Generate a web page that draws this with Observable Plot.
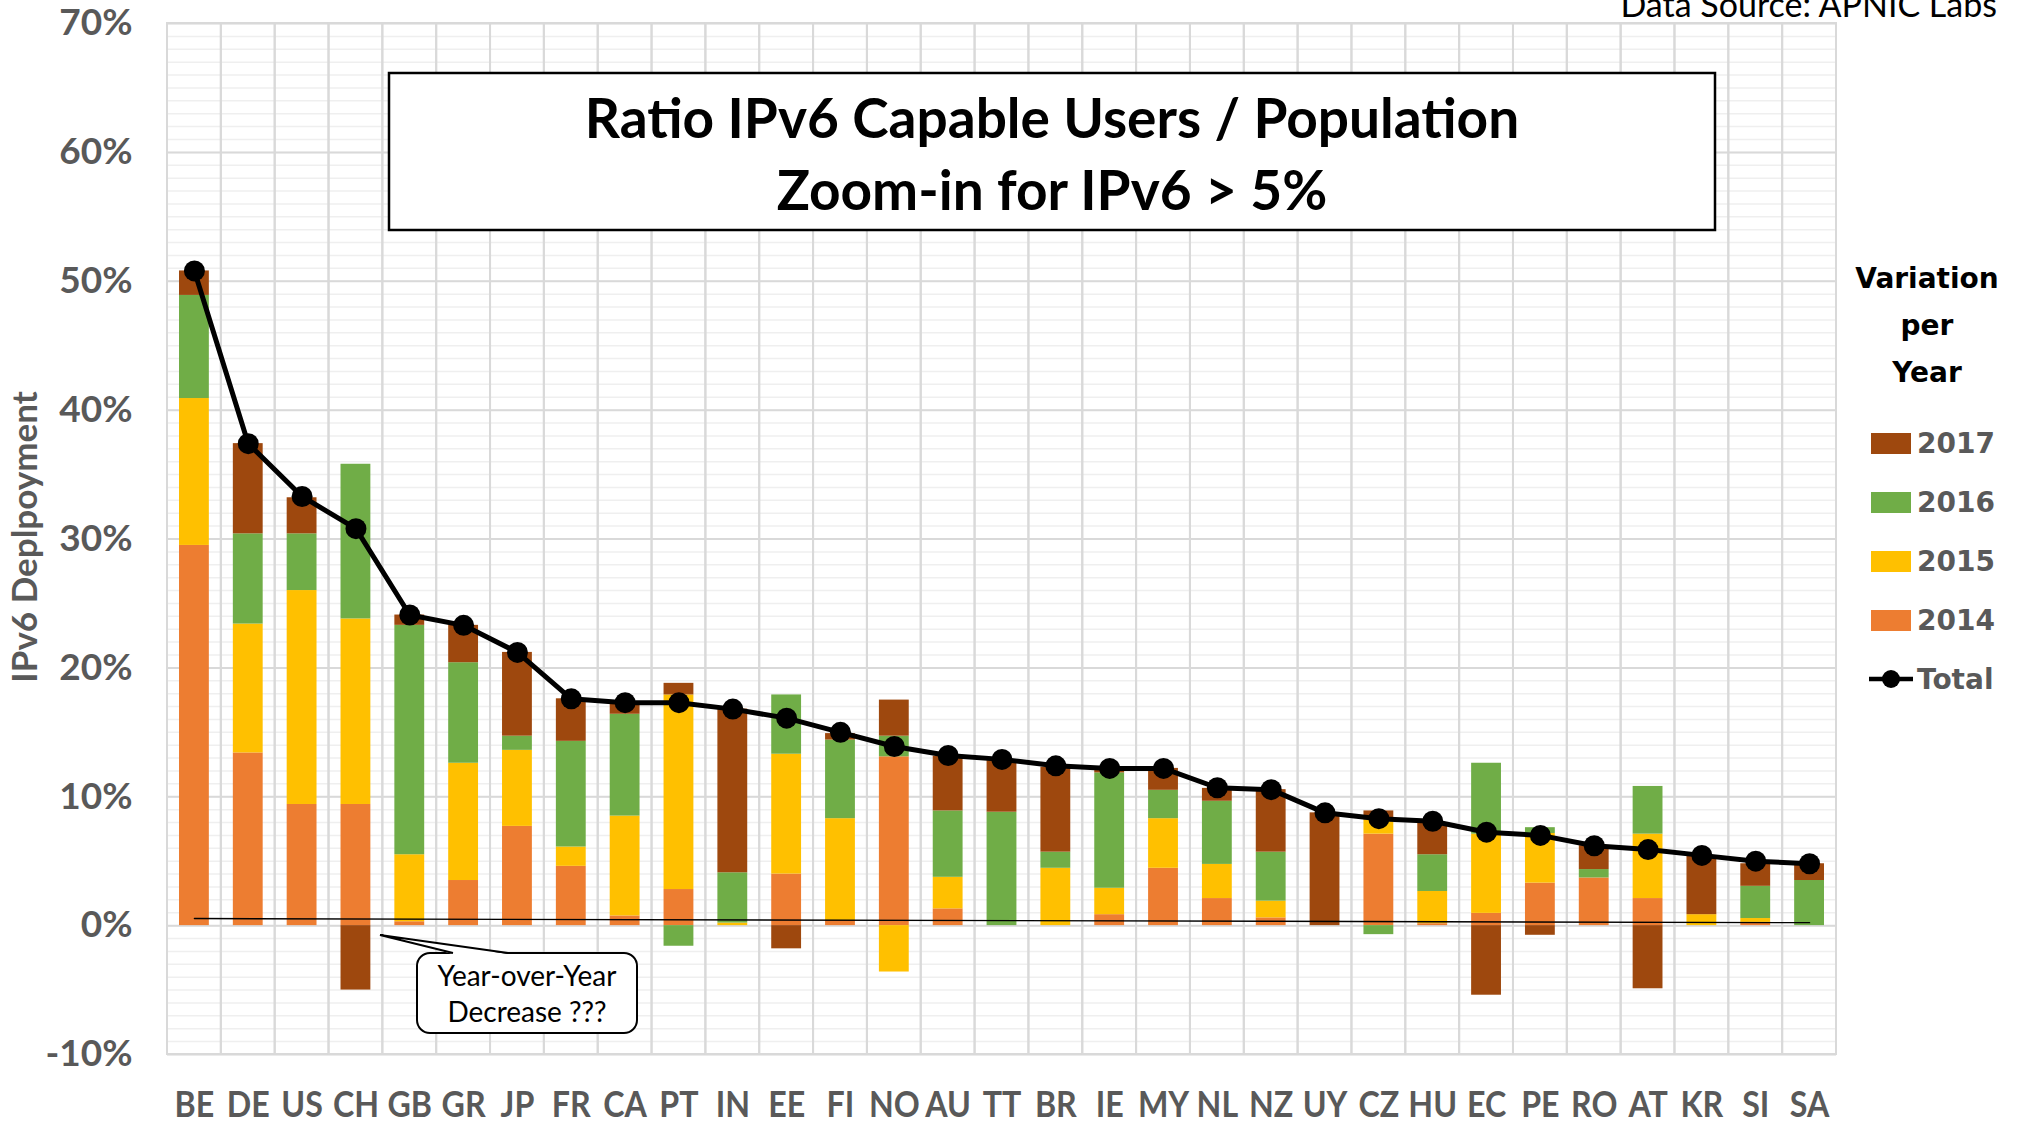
<!DOCTYPE html>
<html>
<head>
<meta charset="utf-8">
<script src="https://cdn.jsdelivr.net/npm/d3@7"></script>
<script src="https://cdn.jsdelivr.net/npm/@observablehq/plot@0.6"></script>
<style>
  body { margin: 0; background: #fff; }
  #chart svg { display: block; }
</style>
</head>
<body>
<div id="chart"></div>
<script>
// ---- Data (percent of population) ----
const countries = ["BE","DE","US","CH","GB","GR","JP","FR","CA","PT","IN","EE","FI","NO","AU","TT","BR","IE","MY","NL","NZ","UY","CZ","HU","EC","PE","RO","AT","KR","SI","SA"];
const v2014 = [29.5, 13.4, 9.4, 9.4, 0.3, 3.5, 7.7, 4.6, 0.75, 2.8, 0, 4.0, 0.4, 13.1, 1.3, 0, 0, 0.85, 4.45, 2.1, 0.6, 0, 7.1, 0.15, 0.95, 3.3, 3.7, 2.1, 0, 0.25, 0];
const v2015 = [11.4, 10.0, 16.6, 14.4, 5.2, 9.1, 5.9, 1.5, 7.75, 15.1, 0.2, 9.3, 7.9, -3.6, 2.45, 0, 4.45, 2.05, 3.85, 2.65, 1.3, 0, 1.1, 2.5, 6.15, 3.85, 0, 5.0, 0.85, 0.3, 0];
const v2016 = [8.0, 7.0, 4.4, 12.0, 17.8, 7.8, 1.1, 8.2, 7.9, -1.6, 3.9, 4.6, 6.1, 1.6, 5.15, 8.8, 1.25, 8.95, 2.2, 4.9, 3.8, 0, -0.7, 2.85, 5.5, 0.45, 0.65, 3.7, 0, 2.5, 3.5];
const v2017 = [1.9, 7.0, 2.8, -5.0, 0.8, 2.9, 6.5, 3.3, 0.9, 0.9, 12.7, -1.8, 0.5, 2.8, 4.25, 4.0, 6.6, 0.2, 1.7, 1.0, 4.85, 8.75, 0.7, 2.5, -5.4, -0.75, 1.85, -4.9, 4.55, 1.75, 1.3];
const totals = [50.8, 37.4, 33.3, 30.8, 24.1, 23.3, 21.2, 17.6, 17.3, 17.3, 16.8, 16.1, 15.0, 13.9, 13.2, 12.9, 12.4, 12.2, 12.2, 10.7, 10.55, 8.75, 8.3, 8.1, 7.25, 7.0, 6.2, 5.9, 5.45, 5.0, 4.8];
const years = ["2014", "2015", "2016", "2017"];
const yearColors = ["#ED7D31", "#FFC000", "#70AD47", "#9E480E"];
const yTicks = [-10, 0, 10, 20, 30, 40, 50, 60, 70];
const minorTicks = d3.range(-10, 71, 1);
// hand-drawn reference line near zero in the original
const refCountries = ["BE", "SA"];
const refValues = [0.55, 0.23];

// ---- Build tables ----
const series = {"2014": v2014, "2015": v2015, "2016": v2016, "2017": v2017};
const stacked = countries.flatMap((c, i) => years.map(y => ({country: c, year: y, value: series[y][i]})));
const totalData = countries.map((c, i) => ({country: c, total: totals[i]}));
const refLine = refCountries.map((c, i) => ({country: c, value: refValues[i]}));

const grey = "#595959";
const FONT = "Lato, sans-serif";

const chart = Plot.plot({
  width: 2020,
  height: 1124,
  marginLeft: 167,
  marginRight: 184,
  marginTop: 23,
  marginBottom: 70,
  style: {fontFamily: FONT, fontSize: "37px", fontWeight: "bold", color: grey, background: "#fff"},
  x: {domain: countries, padding: 0, round: false, tickSize: 0, tickPadding: 36, label: null},
  y: {domain: [-10, 70], ticks: yTicks, tickFormat: d => d + "%", tickSize: 0, tickPadding: 35, label: null},
  color: {domain: years, range: yearColors},
  marks: [
    Plot.ruleY(minorTicks, {stroke: "#efefef", strokeWidth: 1.5}),
    Plot.ruleY(yTicks, {stroke: "#d9d9d9", strokeWidth: 2}),
    Plot.barY(countries, {x: d => d, y1: -10, y2: 70, fill: "none", stroke: "#d9d9d9", strokeWidth: 2}),
    Plot.barY(stacked, {x: "country", y: "value", fill: "year", insetLeft: 12, insetRight: 12}),
    Plot.line(refLine, {x: "country", y: "value", stroke: "#000", strokeWidth: 1.4}),
    Plot.line(totalData, {x: "country", y: "total", stroke: "#000", strokeWidth: 5}),
    Plot.dot(totalData, {x: "country", y: "total", r: 10.5, fill: "#000"})
  ]
});
document.getElementById("chart").appendChild(chart);

const svg = d3.select(chart);
svg.selectAll('g[aria-label^="y-axis"] text')
  .style("font-size", "37px").style("font-weight", "700").style("fill", grey)
  .style("font-family", FONT);
// condensed look of the original narrow face for the country codes
svg.selectAll('g[aria-label^="x-axis"] text')
  .style("font-size", "37px").style("font-weight", "700").style("fill", grey)
  .style("font-family", FONT)
  .each(function() {
    const t = this.getAttribute("transform") || "";
    const x = +this.getAttribute("x") || 0;
    this.setAttribute("transform", `${t} translate(${x},0) scale(0.87,1) translate(${-x},0)`.trim());
  });

function addText(parent, x, y, str, opts) {
  return parent.append("text")
    .attr("x", x).attr("y", y)
    .attr("text-anchor", opts.anchor || "start")
    .style("font-family", opts.family || FONT)
    .style("font-size", opts.size + "px")
    .style("font-weight", opts.weight || 400)
    .style("fill", opts.fill || "#000")
    .text(str);
}

// Y axis title
svg.append("text")
  .attr("transform", "translate(37,537) rotate(-90)")
  .attr("text-anchor", "middle")
  .style("font-family", FONT).style("font-size", "35px").style("font-weight", "700")
  .style("fill", grey)
  .text("IPv6 Deplpoyment");

// Data source (cut at top, as in the original)
addText(svg, 1997, 17, "Data Source: APNIC Labs", {anchor: "end", size: 34, weight: 400});

// Title box
const tg = svg.append("g");
tg.append("rect").attr("x", 389).attr("y", 73).attr("width", 1326).attr("height", 157)
  .attr("fill", "#fff").attr("stroke", "#000").attr("stroke-width", 2.5);
addText(tg, 1052, 138, "Ratio IPv6 Capable Users / Population", {anchor: "middle", size: 55, weight: 700});
addText(tg, 1052, 210, "Zoom-in for IPv6 > 5%", {anchor: "middle", size: 55, weight: 700});

// Callout
const cg = svg.append("g");
cg.append("rect").attr("x", 417).attr("y", 953).attr("width", 220).attr("height", 80).attr("rx", 13)
  .attr("fill", "#fff").attr("stroke", "#000").attr("stroke-width", 2);
cg.append("path").attr("d", "M453,954 L380,935 L508,954 Z").attr("fill", "#fff").attr("stroke", "none");
cg.append("path").attr("d", "M453,953 L380,935 L508,953").attr("fill", "none").attr("stroke", "#000").attr("stroke-width", 2);
addText(cg, 527, 986, "Year-over-Year", {anchor: "middle", size: 28});
addText(cg, 527, 1022, "Decrease ???", {anchor: "middle", size: 28});

// Legend
const lg = svg.append("g");
const DJ = "'DejaVu Sans', sans-serif";
const legendTitle = ["Variation", "per", "Year"];
legendTitle.forEach((t, i) => {
  addText(lg, 1927, 288 + i * 47, t, {anchor: "middle", size: 28, weight: 700, family: DJ});
});
const legendYears = ["2017", "2016", "2015", "2014"];
legendYears.forEach((yr, i) => {
  const cy = 443 + i * 59;
  lg.append("rect").attr("x", 1871).attr("y", cy - 10).attr("width", 40).attr("height", 21)
    .attr("fill", yearColors[years.indexOf(yr)]);
  addText(lg, 1917, cy + 10, yr, {size: 28, weight: 700, family: DJ, fill: grey});
});
{
  const cy = 443 + 4 * 59;
  lg.append("line").attr("x1", 1869).attr("x2", 1913).attr("y1", cy).attr("y2", cy)
    .attr("stroke", "#000").attr("stroke-width", 4.5);
  lg.append("circle").attr("cx", 1891).attr("cy", cy).attr("r", 9).attr("fill", "#000");
  addText(lg, 1917, cy + 10, "Total", {size: 28, weight: 700, family: DJ, fill: grey});
}
</script>
</body>
</html>
